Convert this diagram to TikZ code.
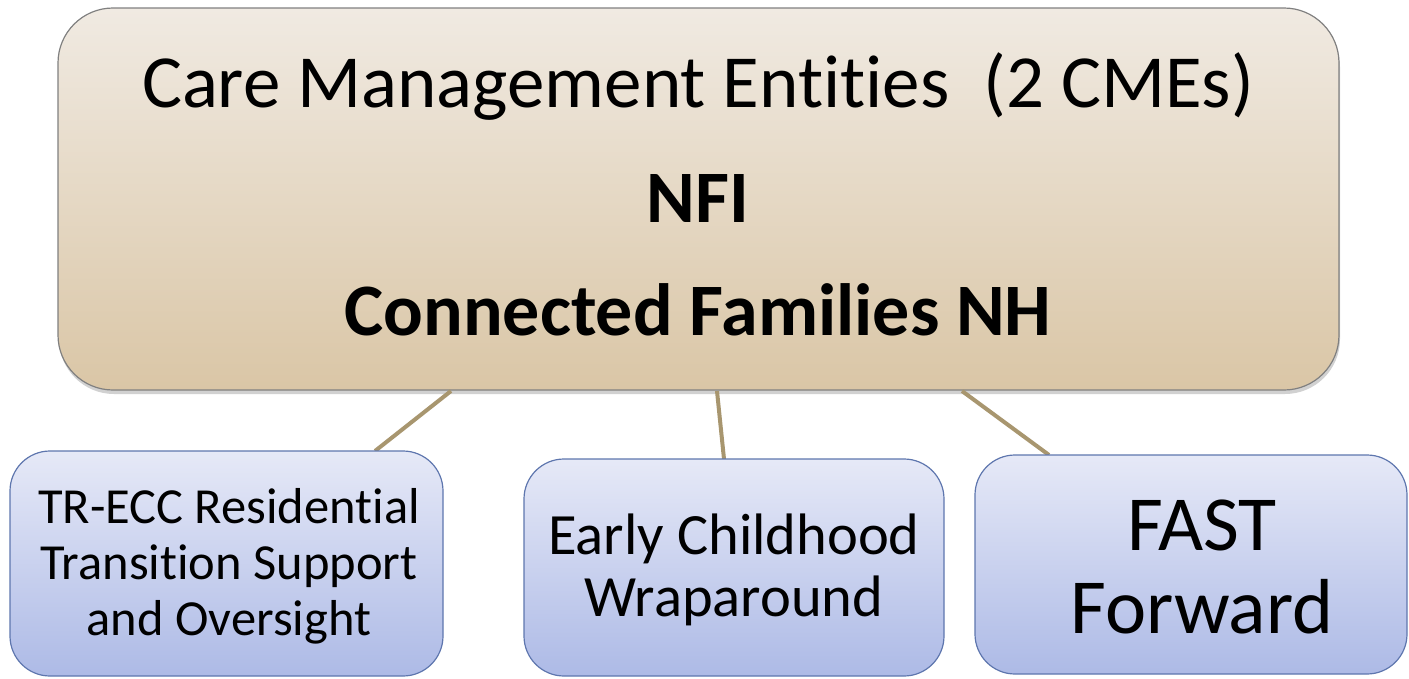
\documentclass[tikz,border=0pt]{standalone}
\usepackage{fontspec}
\setmainfont{Carlito}[Ligatures={NoCommon}]
\usetikzlibrary{shadows}
\definecolor{tantop}{HTML}{F0EAE2}
\definecolor{tanbot}{HTML}{DAC6A6}
\definecolor{bluetop}{HTML}{E6E9F7}
\definecolor{bluebot}{HTML}{ADBAE6}
\definecolor{blueedge}{HTML}{5E76AE}
\definecolor{tanline}{HTML}{A8966F}
\begin{document}
\begin{tikzpicture}[x=1pt,y=-1pt,
  topbox/.style={draw=black!50, line width=1.2pt, rounded corners=55pt, top color=tantop, bottom color=tanbot,
    drop shadow={shadow xshift=1pt, shadow yshift=-4pt, opacity=0.3, fill=black!60}},
  subbox/.style={draw=blueedge, line width=1.2pt, rounded corners=40pt, top color=bluetop, bottom color=bluebot},
  link/.style={draw=tanline, line width=4pt},
  lbl/.style={align=center, inner sep=0pt}]
\useasboundingbox (0,0) rectangle (1409,678);
\path[topbox] (58,8) rectangle (1339,390);
\coordinate (T1) at (451,391);
\coordinate (T2) at (717,391);
\coordinate (T3) at (962,391);
\coordinate (B1) at (375,451);
\coordinate (B2) at (724,459);
\coordinate (B3) at (1049,455);
\draw[link] (T1) -- (B1);
\draw[link] (T2) -- (B2);
\draw[link] (T3) -- (B3);
\path[subbox] (10,451) rectangle (443,676);
\path[subbox] (524,459) rectangle (944,676);
\path[subbox] (975,455) rectangle (1407,674);
\node[lbl, anchor=base, font=\fontsize{75}{90}\selectfont] (t1) at (698,107) {Care Management Entities\ \ (2 CMEs)};
\node[lbl, anchor=base, font=\fontsize{74}{88}\selectfont\bfseries] (t2) at (698,222) {NFI};
\node[lbl, anchor=base, font=\fontsize{74}{88}\selectfont\bfseries] (t3) at (698,335) {Connected Families NH};
\node[lbl, font=\fontsize{50.5}{56}\selectfont] (n1) at (229,566) {TR-ECC Residential\\Transition Support\\and Oversight};
\node[lbl, font=\fontsize{58.5}{62}\selectfont] (n2) at (734,570) {Early Childhood\\Wraparound};
\node[lbl, font=\fontsize{78}{83}\selectfont] (n3) at (1202,567) {FAST\\Forward};
\end{tikzpicture}
\end{document}
